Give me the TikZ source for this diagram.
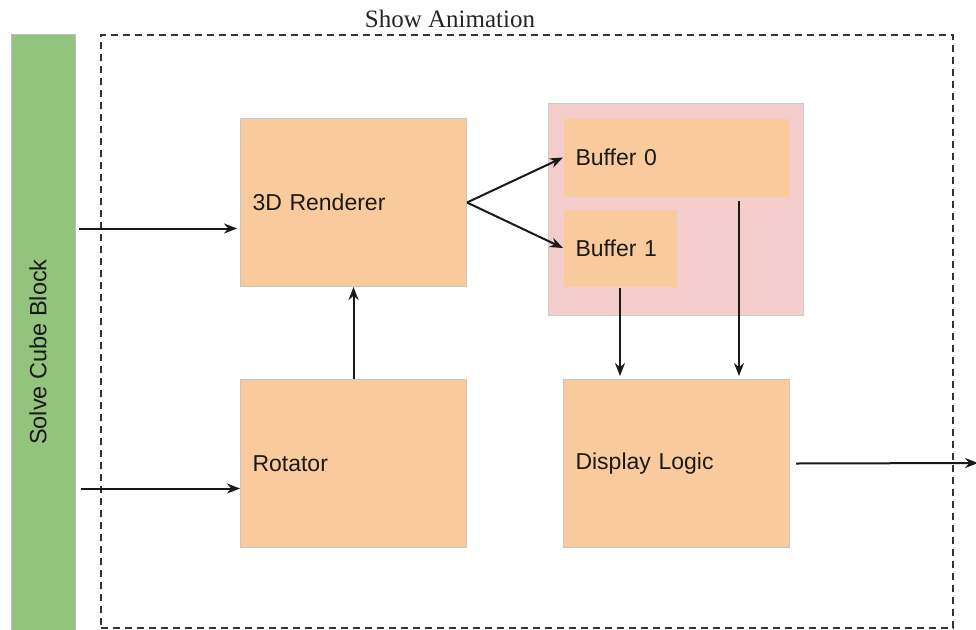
\documentclass[tikz,border=0pt]{standalone}
\usepackage{fontspec}
\setmainfont{Liberation Sans}
\newfontfamily\titlefont{Liberation Serif}
\usetikzlibrary{arrows.meta,calc}
\definecolor{peach}{HTML}{F9CB9C}
\definecolor{leaf}{HTML}{93C47D}
\definecolor{rose}{HTML}{F4CCCC}
\definecolor{ink}{HTML}{1A1A1A}
\begin{document}
\begin{tikzpicture}[x=1pt,y=-1pt,
  blk/.style={draw=black!22, line width=1pt, fill=peach, anchor=north west,
    inner xsep=12pt, inner ysep=0pt, align=left, text=ink,
    font=\fontsize{23}{27}\selectfont},
  arr/.style={draw=black!90, line width=2pt, -{Stealth[length=13pt,width=10pt]}},
]
\useasboundingbox (0,0) rectangle (976,629);

% outer group and side bar
\node[draw=black!80, line width=2pt, dash pattern=on 7pt off 5pt,
  minimum width=852pt, minimum height=593pt, anchor=north west, inner sep=0pt]
  (anim) at (100,34) {};
\node[font=\titlefont\fontsize{25}{29}\selectfont, text=black!85] (title) at (450,19) {Show Animation};
\node[draw=black!25, line width=1pt, fill=leaf, minimum width=64pt, minimum height=600pt,
  anchor=north west, inner sep=0pt] (solve) at (11,34) {};
\node[rotate=90, text=ink, font=\fontsize{23.5}{27}\selectfont] (solvelbl) at (38,352) {Solve Cube Block};

% buffer group
\node[draw=black!20, line width=1pt, fill=rose, minimum width=255pt, minimum height=212pt,
  anchor=north west, inner sep=0pt] (bufs) at (548,103) {};

% blocks
\node[blk, minimum width=226pt, minimum height=168pt, text width=202pt] (ren) at (240,118) {3D Renderer};
\node[blk, minimum width=226pt, minimum height=168pt, text width=202pt] (rot) at (240,379) {Rotator};
\node[blk, draw=none, minimum width=226pt, minimum height=78pt, text width=202pt] (buf0) at (563,118) {Buffer 0};
\node[blk, draw=none, minimum width=113pt, minimum height=77pt, text width=89pt] (buf1) at (563,209) {Buffer 1};
\node[blk, minimum width=226pt, minimum height=168pt, text width=202pt] (disp) at (563,379) {Display Logic};

% connectors
\coordinate (in1) at ([yshift=-26pt]ren.west);
\coordinate (in2) at ([yshift=-25pt]rot.west);
\draw[arr] ($(solve.east |- in1)+(3,0)$) -- ($(in1)+(-3,0)$);
\draw[arr] ($(solve.east |- in2)+(5,0)$) -- (in2);
\draw[arr] (rot.north) -- (ren.south);
\draw[arr] (ren.east) -- (buf0.west);
\draw[arr] (ren.east) -- (buf1.west);
\draw[arr] ($(buf1.south)+(0,1)$) -- ($(buf1.south |- disp.north)+(0,-3)$);
\coordinate (b0out) at ($(buf0.south east)+(-51,4)$);
\draw[arr] (b0out) -- ($(b0out |- disp.north)+(0,-3)$);
\coordinate (out) at (978,463);
\draw[arr] ($(disp.east)+(6,0)$) -- (out);
\end{tikzpicture}
\end{document}
